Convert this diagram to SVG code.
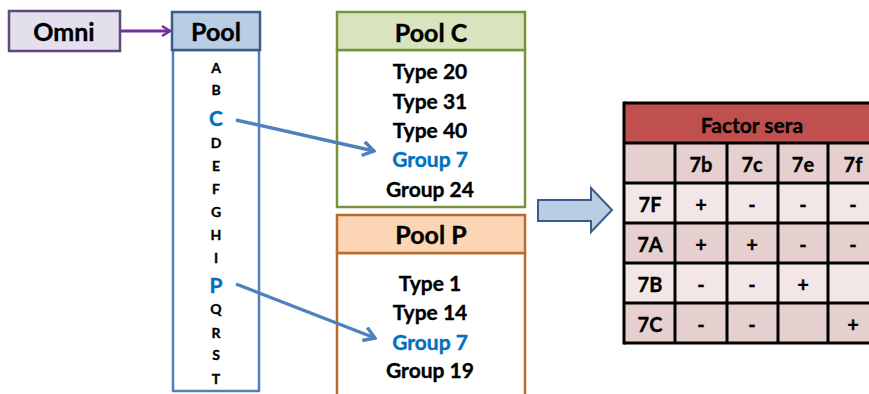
<svg xmlns="http://www.w3.org/2000/svg" width="869" height="394" viewBox="0 0 869 394">
<defs>
<style>
text{font-family:Lato,"Liberation Sans",sans-serif;font-weight:bold;text-anchor:middle;dominant-baseline:central;fill:#000;stroke:#000;stroke-width:0.35px}
.hd{font-size:25px}
.it{font-size:21px}
.lt{font-size:14px}
.bl{fill:#0070c0;stroke:#0070c0}
.cell{font-size:20px}
</style>
<marker id="pa" viewBox="0 0 12 12" refX="10" refY="6" markerWidth="12" markerHeight="12" markerUnits="userSpaceOnUse" orient="auto">
<path d="M2,1 L10,6 L2,11" fill="none" stroke="#7030a0" stroke-width="2.5"/>
</marker>
<marker id="ba" viewBox="0 0 16 16" refX="14" refY="8" markerWidth="16" markerHeight="16" markerUnits="userSpaceOnUse" orient="auto">
<path d="M3,1 L14,8 L3,15" fill="none" stroke="#4f81bd" stroke-width="3.4"/>
</marker>
</defs>

<g id="omni">
<rect x="9" y="11" width="111" height="40" fill="#e4dfec" stroke="#5f497a" stroke-width="2.5"/>
<text class="hd" x="64" y="31">Omni</text>
</g>

<g id="pool">
<rect x="173" y="50" width="86" height="341" fill="#fff" stroke="#4f81bd" stroke-width="2.5"/>
<rect x="172" y="12" width="88" height="38" fill="#b9cde5" stroke="#385d8a" stroke-width="2.5"/>
<text class="hd" x="216" y="31">Pool</text>
<text class="lt" x="216" y="67">A</text>
<text class="lt" x="216" y="89">B</text>
<text class="it bl" x="216" y="117">C</text>
<text class="lt" x="216" y="142">D</text>
<text class="lt" x="216" y="165">E</text>
<text class="lt" x="216" y="188">F</text>
<text class="lt" x="216" y="211">G</text>
<text class="lt" x="216" y="234">H</text>
<text class="lt" x="216" y="257">I</text>
<text class="it bl" x="216" y="284">P</text>
<text class="lt" x="216" y="308">Q</text>
<text class="lt" x="216" y="332">R</text>
<text class="lt" x="216" y="354">S</text>
<text class="lt" x="216" y="378">T</text>
</g>

<g id="poolC">
<rect x="337" y="50" width="188" height="157" fill="#fff" stroke="#77933c" stroke-width="2.5"/>
<rect x="337" y="12" width="188" height="38" fill="#d7e4bd" stroke="#77933c" stroke-width="2.5"/>
<text class="hd" x="431" y="32">Pool C</text>
<text class="it" x="430" y="70">Type 20</text>
<text class="it" x="430" y="100">Type 31</text>
<text class="it" x="430" y="129">Type 40</text>
<text class="it bl" x="430" y="158">Group 7</text>
<text class="it" x="430" y="188">Group 24</text>
</g>

<g id="poolP">
<rect x="337" y="253" width="188" height="150" fill="#fff" stroke="#b66d31" stroke-width="2.5"/>
<rect x="337" y="215" width="188" height="38" fill="#fcd5b5" stroke="#b66d31" stroke-width="2.5"/>
<text class="hd" x="431" y="234">Pool P</text>
<text class="it" x="430" y="282">Type 1</text>
<text class="it" x="430" y="311">Type 14</text>
<text class="it bl" x="430" y="341">Group 7</text>
<text class="it" x="430" y="369">Group 19</text>
</g>

<g id="bigarrow">
<path d="M538,200 L591,200 L591,188 L612,210 L591,232 L591,221 L538,221 Z" fill="#b9cde5" stroke="#385d8a" stroke-width="2"/>
</g>

<g id="table">
<rect x="624" y="103" width="260" height="40" fill="#c0504d"/>
<rect x="624" y="143" width="260" height="40" fill="#e6cfcf"/>
<rect x="624" y="183" width="260" height="40" fill="#f2e6e6"/>
<rect x="624" y="223" width="260" height="40" fill="#e6cfcf"/>
<rect x="624" y="263" width="260" height="40" fill="#f2e6e6"/>
<rect x="624" y="303" width="260" height="40" fill="#e6cfcf"/>
<g stroke="#000" stroke-width="3" fill="none">
<path d="M624,103 H880 M624,143 H880 M624,183 H880 M624,223 H880 M624,263 H880 M624,303 H880 M624,343 H880"/>
<path d="M624,101.5 V344.5 M675,143 V343 M727,143 V343 M778,143 V343 M828,143 V343"/>
</g>
<text class="it" x="752" y="124">Factor sera</text>
<text class="cell" x="701" y="164">7b</text>
<text class="cell" x="752" y="164">7c</text>
<text class="cell" x="803" y="164">7e</text>
<text class="cell" x="853" y="164">7f</text>
<text class="cell" x="650" y="204">7F</text>
<text class="cell" x="650" y="244">7A</text>
<text class="cell" x="650" y="284">7B</text>
<text class="cell" x="650" y="324">7C</text>
<text class="cell" x="701" y="204">+</text>
<text class="cell" x="752" y="204">-</text>
<text class="cell" x="803" y="204">-</text>
<text class="cell" x="853" y="204">-</text>
<text class="cell" x="701" y="244">+</text>
<text class="cell" x="752" y="244">+</text>
<text class="cell" x="803" y="244">-</text>
<text class="cell" x="853" y="244">-</text>
<text class="cell" x="701" y="284">-</text>
<text class="cell" x="752" y="284">-</text>
<text class="cell" x="803" y="284">+</text>
<text class="cell" x="701" y="324">-</text>
<text class="cell" x="752" y="324">-</text>
<text class="cell" x="853" y="324">+</text>
</g>

<g id="connectors">
<line x1="120" y1="31" x2="170" y2="31" stroke="#7030a0" stroke-width="3" marker-end="url(#pa)"/>
<line x1="236" y1="120" x2="374" y2="151" stroke="#4f81bd" stroke-width="3.4" marker-end="url(#ba)"/>
<line x1="236" y1="284" x2="375" y2="338" stroke="#4f81bd" stroke-width="3.4" marker-end="url(#ba)"/>
</g>
</svg>
